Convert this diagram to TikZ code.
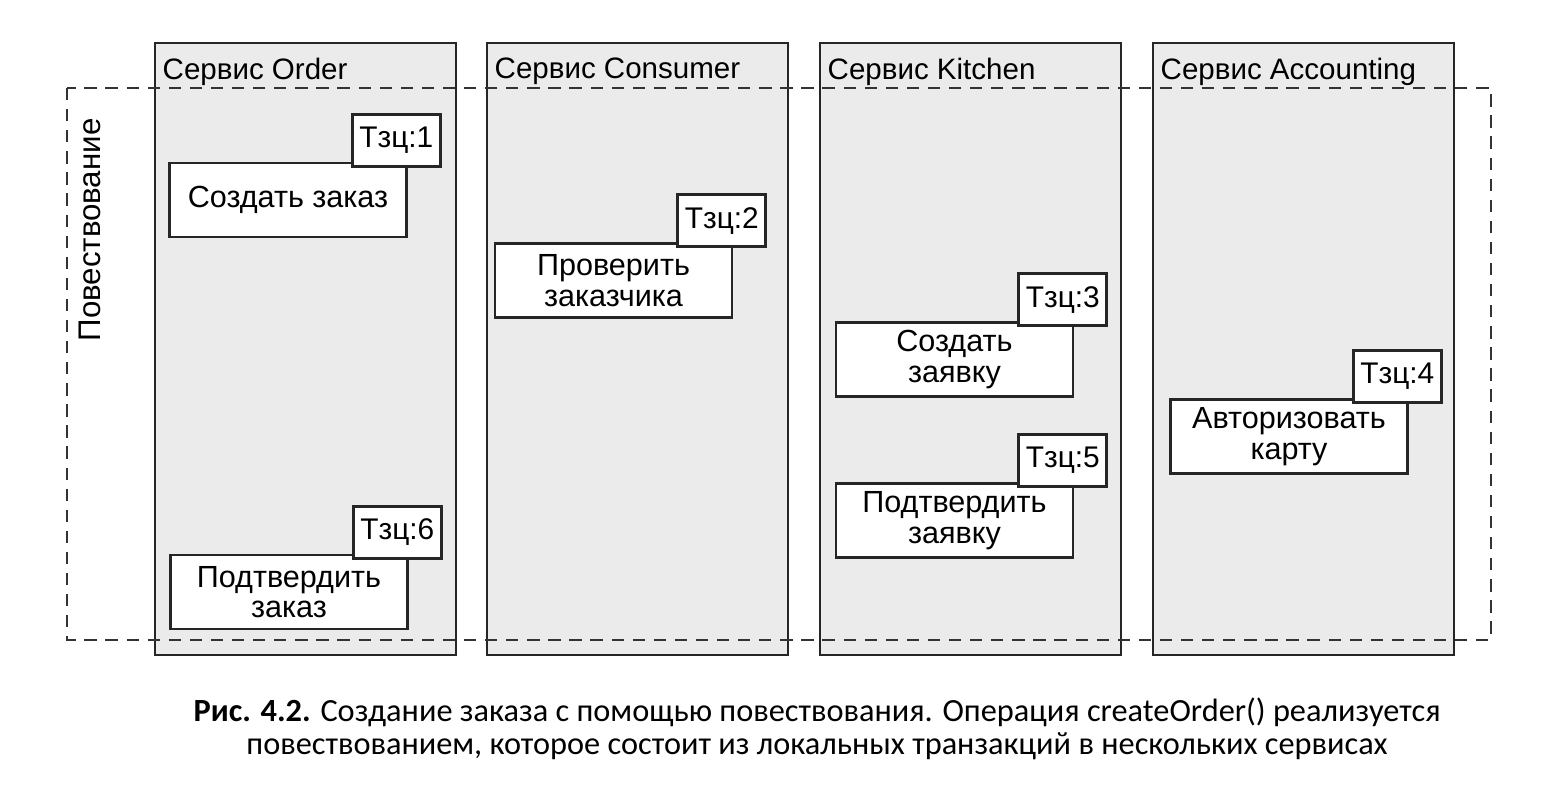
\documentclass[tikz,border=0pt]{standalone}
\usepackage{fontspec}
\setmainfont{Liberation Sans}
\newfontfamily\capfont{Carlito}
\usetikzlibrary{positioning}

\begin{document}
\begin{tikzpicture}[
    service/.style={draw=black!85, thick, fill=black!8, anchor=north west, minimum width=3.01cm, minimum height=6.12cm, inner sep=0pt, outer sep=0pt},
    svcname/.style={anchor=north west, font=\fontsize{8.4}{9}\selectfont, inner sep=0pt},
    txbox/.style={draw=black!85, thick, fill=white, minimum width=2.37cm, minimum height=0.74cm, align=center, font=\fontsize{8.7}{8.7}\selectfont, inner sep=1pt},
    tzc/.style={draw=black!85, thick, fill=white, minimum width=0.88cm, minimum height=0.52cm, font=\fontsize{8.5}{9}\selectfont, inner sep=0pt}
]
    \useasboundingbox (0,0) rectangle (15.62,8);
    % services
    \node[service] (order) at (1.55,7.57) {};
    \node[service, right=0.31cm of order] (consumer) {};
    \node[service, right=0.32cm of consumer] (kitchen) {};
    \node[service, right=0.32cm of kitchen] (accounting) {};
    \node[svcname] at ([shift={(0.07,-0.14)}]order.north west) {Сервис Order};
    \node[svcname] at ([shift={(0.07,-0.14)}]consumer.north west) {Сервис Consumer};
    \node[svcname] at ([shift={(0.07,-0.14)}]kitchen.north west) {Сервис Kitchen};
    \node[svcname] at ([shift={(0.07,-0.14)}]accounting.north west) {Сервис Accounting};

    % saga
    \draw[black!80, line width=0.6pt, dash pattern=on 3.5pt off 2.5pt] (0.67,7.12) rectangle (14.91,1.60);
    \node[rotate=90, font=\fontsize{8.9}{9}\selectfont] (saga) at (0.90,5.70) {Повествование};

    % local transactions
    \node[txbox] (createorder) at (2.88,6.00) {Создать заказ};
    \node[txbox] (verify) at (6.135,5.195) {Проверить\\заказчика};
    \node[txbox] (createticket) at (9.545,4.405) {Создать\\заявку};
    \node[txbox] (authorize) at (12.89,3.635) {Авторизовать\\карту};
    \node[txbox] (approveticket) at (9.545,2.795) {Подтвердить\\заявку};
    \node[txbox] (approveorder) at (2.89,2.08) {Подтвердить\\заказ};

    \node[tzc, above right=-0.06cm and -0.57cm of createorder] (tab1) {Тзц:1};
    \node[tzc, above right=-0.06cm and -0.57cm of verify] (tab2) {Тзц:2};
    \node[tzc, above right=-0.06cm and -0.57cm of createticket] (tab3) {Тзц:3};
    \node[tzc, above right=-0.06cm and -0.57cm of authorize] (tab4) {Тзц:4};
    \node[tzc, above right=-0.06cm and -0.57cm of approveticket] (tab5) {Тзц:5};
    \node[tzc, above right=-0.06cm and -0.57cm of approveorder] (tab6) {Тзц:6};

    % caption
    \node[align=center, font=\capfont\fontsize{9.2}{9.4}\selectfont] (caption) at (8.17,0.715)
        {\textbf{Рис. 4.2.} Создание заказа с помощью повествования. Операция createOrder() реализуется\\
         повествованием, которое состоит из локальных транзакций в нескольких сервисах};
\end{tikzpicture}
\end{document}
